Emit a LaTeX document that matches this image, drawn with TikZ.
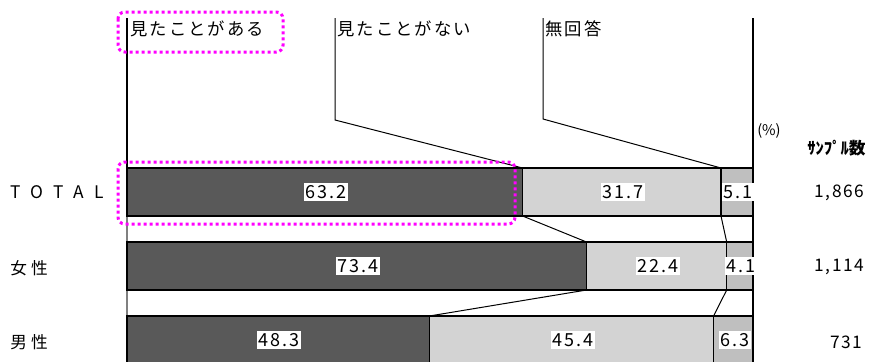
\documentclass[tikz,border=0pt]{standalone}
\usepackage{fontspec}
\setmainfont{Noto Sans CJK JP}
\definecolor{segdark}{RGB}{89,89,89}
\definecolor{seglight}{RGB}{211,211,211}
\definecolor{segmid}{RGB}{191,191,191}
\definecolor{hilite}{RGB}{255,0,255}
\begin{document}
\begin{tikzpicture}[x=0.75pt,y=-0.75pt,
  bar/.style={draw=black,line width=1.1pt},
  lead/.style={draw=black,line width=0.75pt},
  val/.style={fill=white,inner xsep=1pt,inner ysep=1.5pt,font=\fontsize{13.5}{13.5}\selectfont\addfontfeature{LetterSpace=10}},
  toplab/.style={anchor=west,inner sep=0pt,font=\fontsize{13}{13}\selectfont\addfontfeature{LetterSpace=12}},
  catlab/.style={anchor=west,inner sep=0pt,font=\fontsize{12.5}{12.5}\selectfont\addfontfeature{LetterSpace=25}},
  nlab/.style={anchor=east,inner sep=0pt,font=\fontsize{13}{13}\selectfont\addfontfeature{LetterSpace=8}},
  hlbox/.style={draw=hilite,line width=2.25pt,dash pattern=on 2.25pt off 2.25pt,rounded corners=5pt}]
\useasboundingbox (0,0) rectangle (875,361);
\clip (0,0) rectangle (875,361);

% bar boundary coordinates
\coordinate (t0t) at (127,168); \coordinate (t0b) at (127,216);
\coordinate (t1t) at (522.6,168); \coordinate (t1b) at (522.6,216);
\coordinate (t2t) at (721,168); \coordinate (t2b) at (721,216);
\coordinate (t3t) at (753,168); \coordinate (t3b) at (753,216);
\coordinate (f0t) at (127,242); \coordinate (f0b) at (127,290);
\coordinate (f1t) at (586.5,242); \coordinate (f1b) at (586.5,290);
\coordinate (f2t) at (726.7,242); \coordinate (f2b) at (726.7,290);
\coordinate (f3t) at (753,242); \coordinate (f3b) at (753,290);
\coordinate (m0t) at (127,316); \coordinate (m0b) at (127,366);
\coordinate (m1t) at (429.4,316); \coordinate (m1b) at (429.4,366);
\coordinate (m2t) at (713.6,316); \coordinate (m2b) at (713.6,366);
\coordinate (m3t) at (753,316); \coordinate (m3b) at (753,366);

% axis and leader lines
\coordinate (a0) at (127,18); \coordinate (a1) at (335,18); \coordinate (a1k) at (335,120);
\coordinate (a2) at (543,18); \coordinate (a2k) at (543,119);
\coordinate (a3) at (753,18); \coordinate (a3b) at (753,366);
\coordinate (abot) at (127,366);
\draw[draw=gray,line width=1pt] (t0t) -- (abot);
\draw[lead,line width=1pt] (a0) -- (t0t);
\draw[lead] (a1) -- (a1k) -- (t1t);
\draw[lead] (a2) -- (a2k) -- (t2t);
\draw[lead,line width=1pt] (a3) -- (a3b);

% connectors between bars
\draw[lead] (t1b) -- (f1t);
\draw[lead] (t2b) -- (f2t);
\draw[lead] (f1b) -- (m1t);
\draw[lead] (f2b) -- (m2t);

% bars
\filldraw[bar,fill=segdark] (t0t) rectangle (t1b);
\filldraw[bar,fill=seglight] (t1t) rectangle (t2b);
\filldraw[bar,fill=segmid] (t2t) rectangle (t3b);
\filldraw[bar,fill=segdark] (f0t) rectangle (f1b);
\filldraw[bar,fill=seglight] (f1t) rectangle (f2b);
\filldraw[bar,fill=segmid] (f2t) rectangle (f3b);
\filldraw[bar,fill=segdark] (m0t) rectangle (m1b);
\filldraw[bar,fill=seglight] (m1t) rectangle (m2b);
\filldraw[bar,fill=segmid] (m2t) rectangle (m3b);

% values
\node[val] (v1) at (326,192) {63.2};
\node[val] (v2) at (623,192) {31.7};
\node[val] (v3) at (738,192) {5.1};
\node[val] (v4) at (358,266) {73.4};
\node[val] (v5) at (658,266) {22.4};
\node[val] (v6) at (741,266) {4.1};
\node[val] (v7) at (279,340) {48.3};
\node[val] (v8) at (573,340) {45.4};
\node[val] (v9) at (735,340) {6.3};

% top labels
\node[toplab] (l1) at (130,29) {見たことがある};
\node[toplab] (l2) at (337,29) {見たことがない};
\node[toplab] (l3) at (545,29) {無回答};

% category labels
\node[anchor=west,inner sep=0pt,font=\fontsize{13}{13}\selectfont\addfontfeature{LetterSpace=60}] (c1) at (10,192) {TOTAL};
\node[catlab] (c2) at (10,268) {女性};
\node[catlab] (c3) at (10,342) {男性};

% right side
\node[anchor=west,inner sep=0pt,font=\fontsize{11}{11}\selectfont] (pct) at (757,131) {(\%)};
\node[anchor=west,inner sep=0pt,font=\fontsize{12.5}{12.5}\selectfont\bfseries] (ss) at (807,148) {ｻﾝﾌﾟﾙ数};
\node[nlab] (n1) at (864,193) {1,866};
\node[nlab] (n2) at (864,267) {1,114};
\node[nlab] (n3) at (862,342) {731};

% highlight marks
\draw[hlbox] (118,12) rectangle (283,52);
\draw[hlbox] (118,162) rectangle (515,224);
\end{tikzpicture}
\end{document}
